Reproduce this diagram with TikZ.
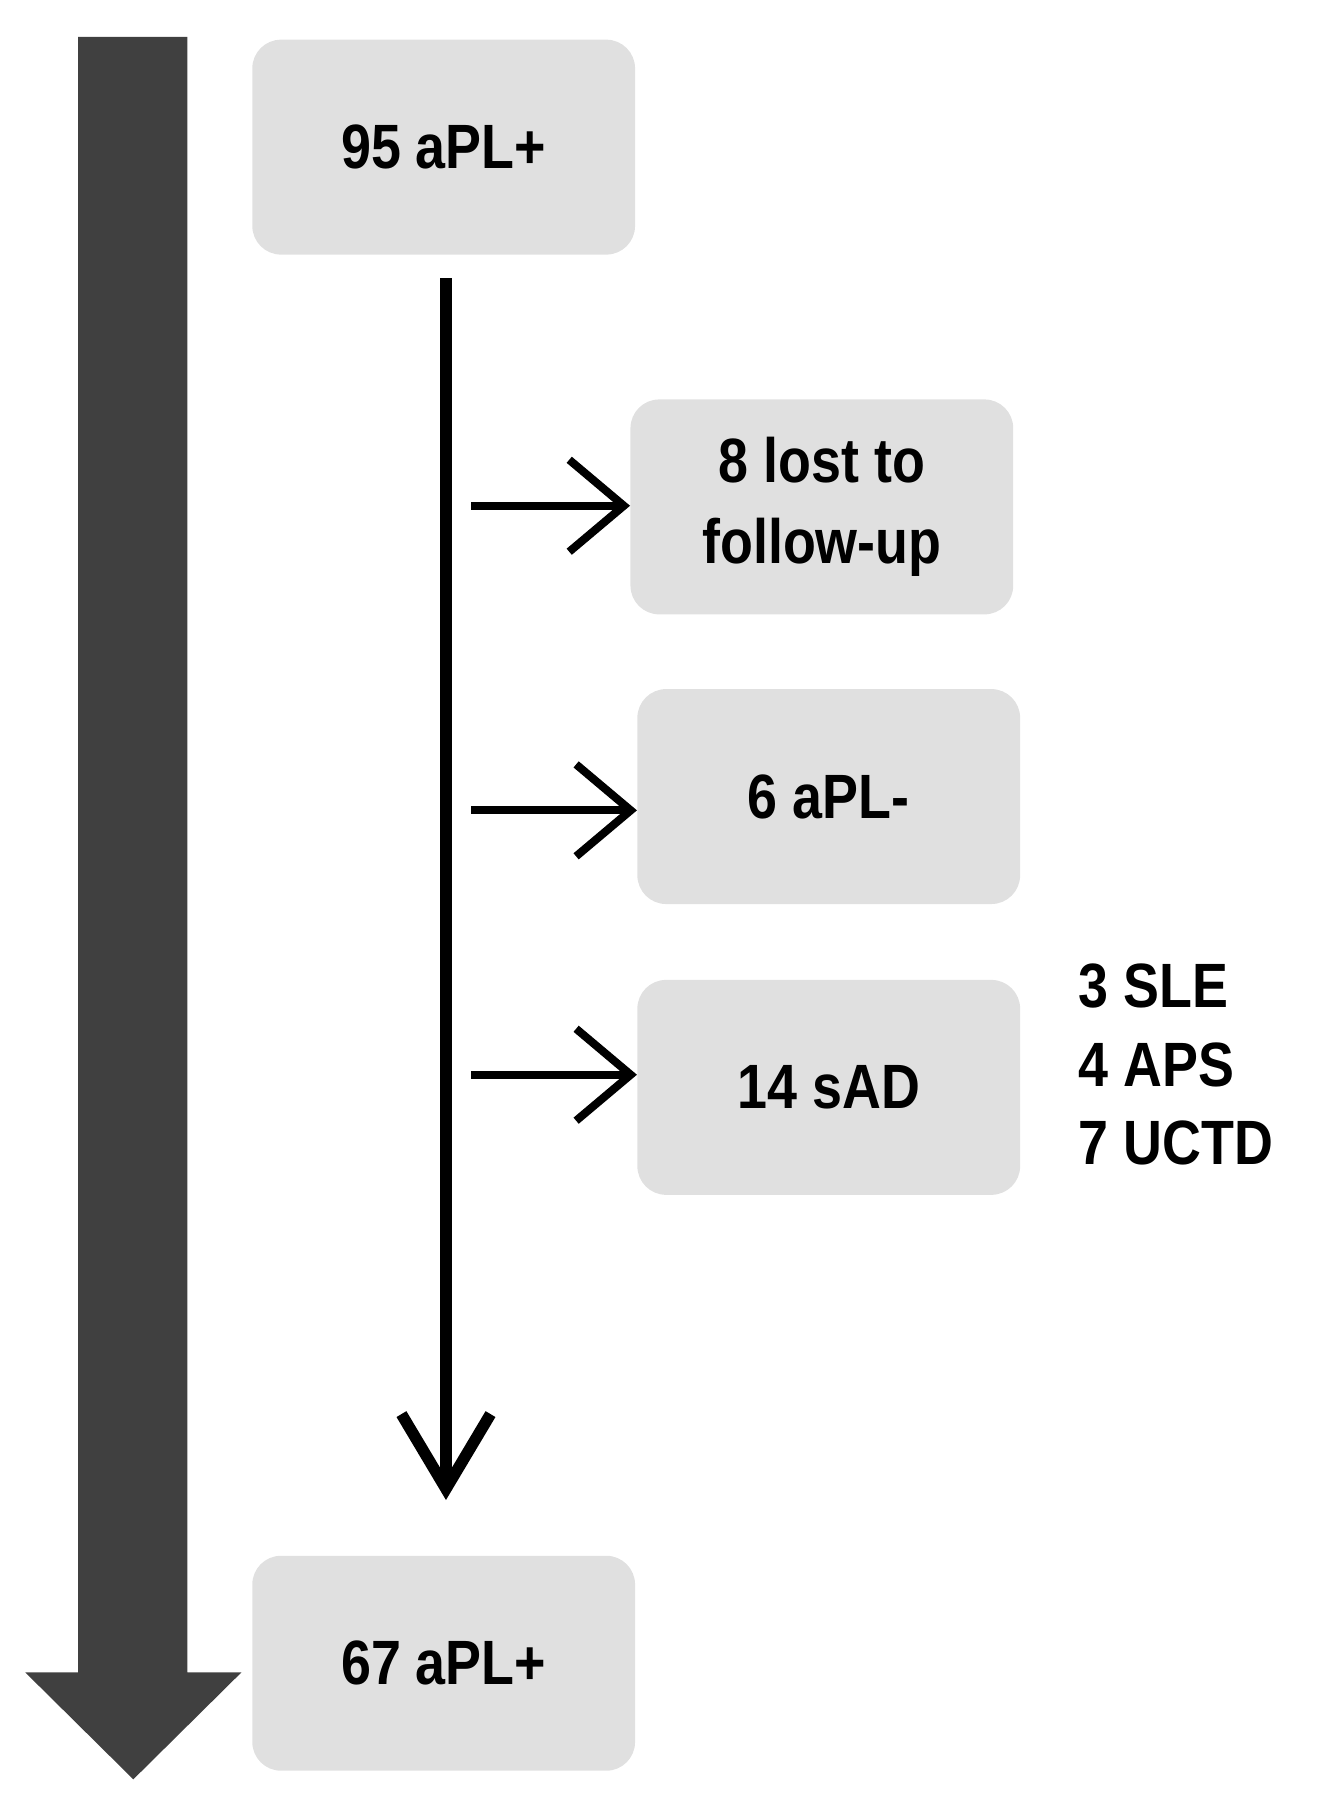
\documentclass[tikz,border=0pt]{standalone}
\usepackage{fontspec}
\setmainfont{Liberation Sans}[FakeStretch=0.86]
\usetikzlibrary{arrows.meta}
\definecolor{boxg}{HTML}{E0E0E0}
\definecolor{darkg}{HTML}{404040}
\begin{document}
\begin{tikzpicture}[x=0.02cm,y=-0.02cm,
  box/.style={fill=boxg,rounded corners=0.5cm,minimum width=333*0.02cm,minimum height=187*0.02cm,align=center,font=\fontsize{31}{40}\selectfont\bfseries,inner sep=0pt},
  harr/.style={line width=7*0.02cm,-{Straight Barb[length=0.95cm,width=1.6cm,line width=7*0.02cm]}}]
\useasboundingbox (0,0) rectangle (1145,1566);
\fill[darkg] (68,32) -- (163,32) -- (163,1455) -- (210,1455) -- (116,1548) -- (22,1455) -- (68,1455) -- cycle;
\node[box] (top) at (386,128) {95 aPL+};
\node[box] (lost) at (715,441) {8 lost to\\follow-up};
\node[box] (neg) at (721,693) {6 aPL-};
\node[box] (sad) at (721,946) {14 sAD};
\node[box] (bot) at (386,1447) {67 aPL+};
\coordinate (vs) at (388,242);
\coordinate (ve) at (388,1305);
\draw[line width=10*0.02cm,-{Straight Barb[length=1.3cm,width=1.55cm,line width=10*0.02cm]}] (vs) -- (ve);
\coordinate (a1) at (410,440);
\coordinate (a2) at (410,705);
\coordinate (a3) at (410,935);
\draw[harr] (a1) -- (a1 -| lost.west);
\draw[harr] (a2) -- (a2 -| neg.west);
\draw[harr] (a3) -- (a3 -| sad.west);
\node[anchor=north west,align=left,inner sep=0pt,font=\fontsize{31}{39}\selectfont\bfseries] (side) at (938,838) {3 SLE\\4 APS\\7 UCTD};
\end{tikzpicture}
\end{document}
